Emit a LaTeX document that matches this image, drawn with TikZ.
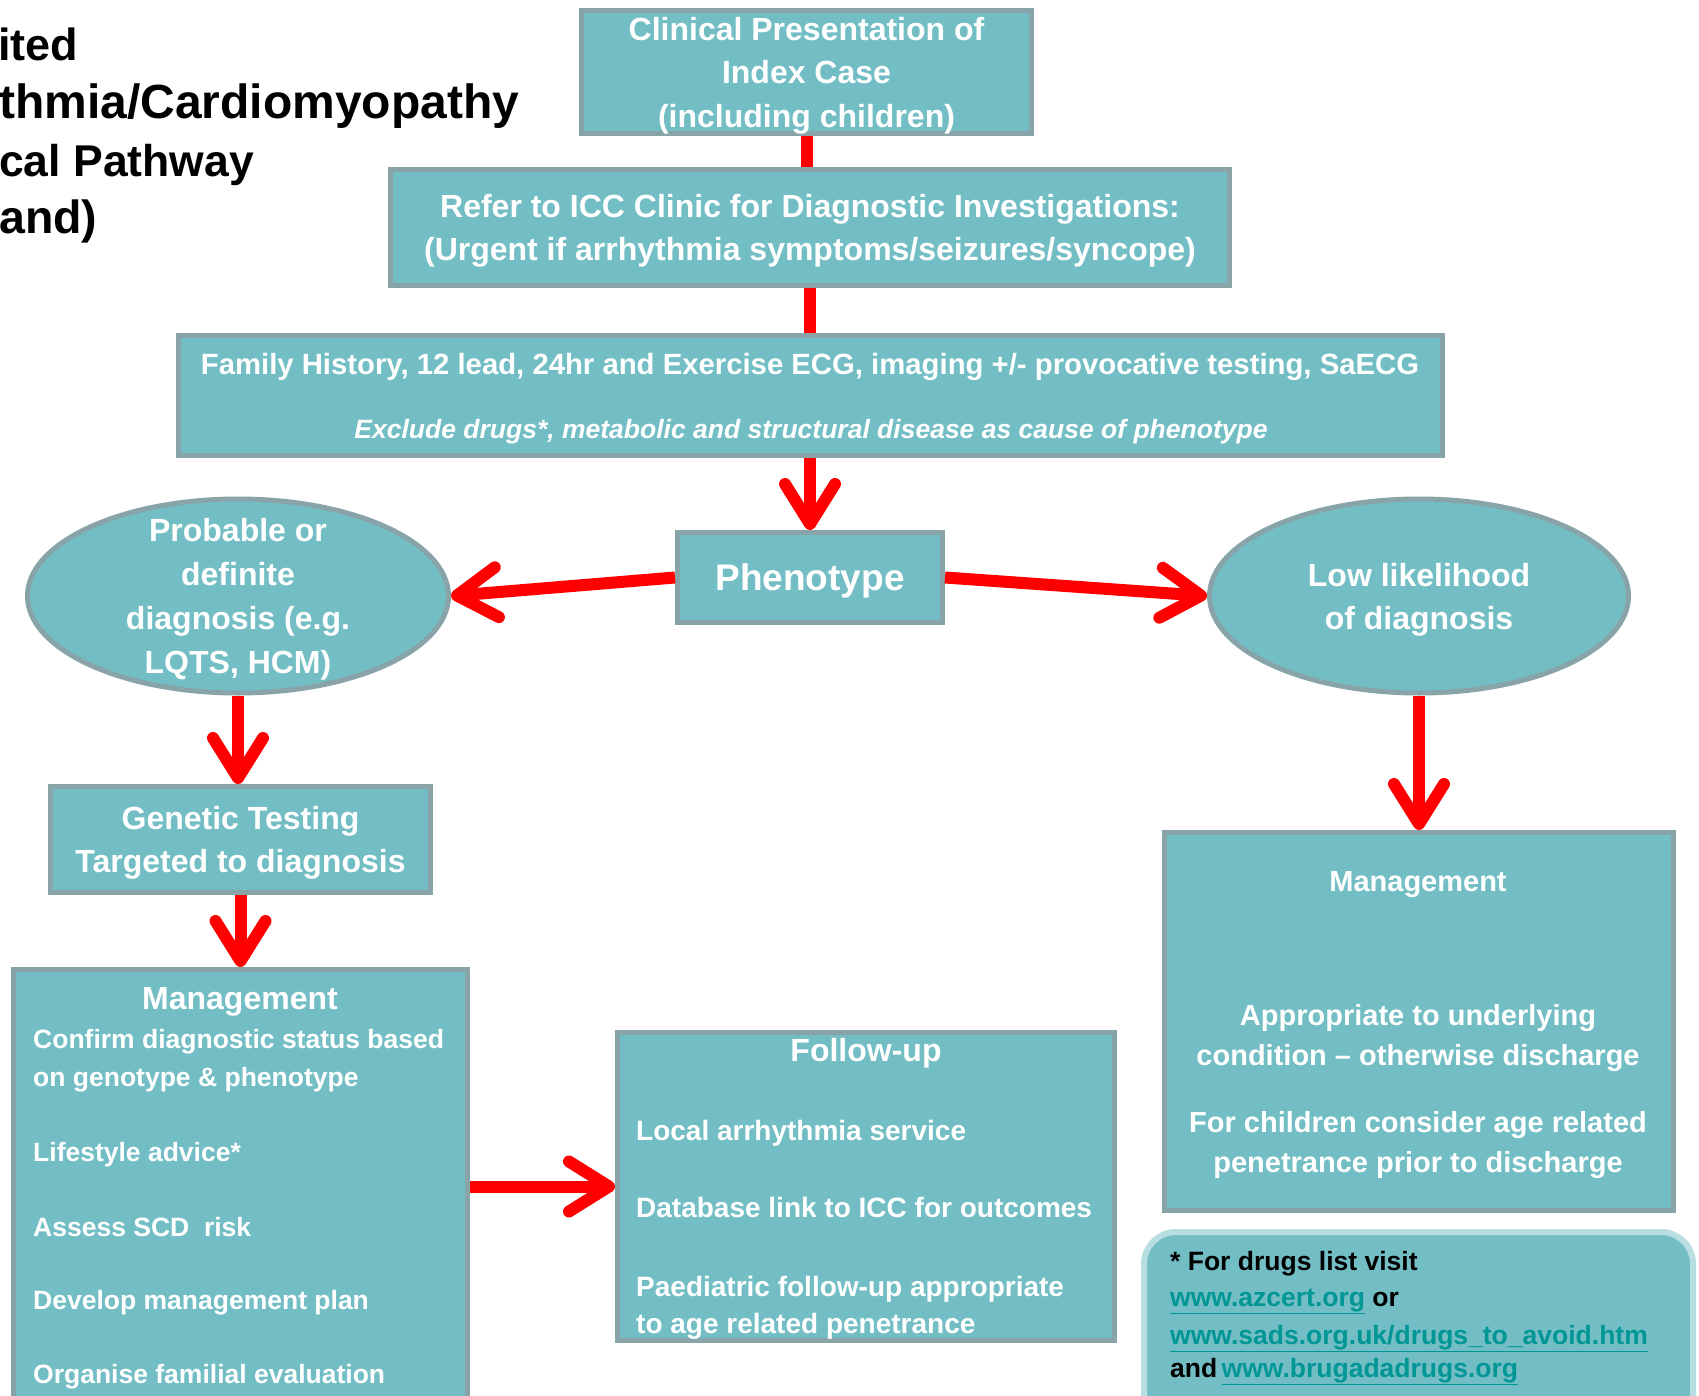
\documentclass[tikz,border=0pt]{standalone}
\usepackage{fontspec}
\setmainfont{Liberation Sans}
\usetikzlibrary{arrows.meta,shapes.geometric}
\definecolor{tl}{RGB}{114,190,196}
\definecolor{bd}{RGB}{137,164,168}
\definecolor{lk}{RGB}{0,150,150}
\definecolor{ring}{RGB}{185,222,226}
\newcommand{\fs}[2]{\fontsize{#1}{#2}\selectfont}
\newcommand{\lnk}[1]{\textcolor{lk}{\underline{#1}}}
\begin{document}
\begin{tikzpicture}[x=1pt,y=-1pt,
  box/.style={draw=bd, fill=tl, line width=5pt, inner sep=0pt, text=white, align=center, text depth=0pt, font=\bfseries\fs{32}{43.5}},
  arr/.style={draw=red, line width=12pt, -{Straight Barb[length=40pt,width=50pt,round]}},
  conn/.style={draw=red, line width=12pt},
  lbl/.style={inner sep=0pt, text=white, font=\bfseries\fs{26.5}{30}},
  ttl/.style={inner sep=0pt, text=black, font=\bfseries\fs{48}{52}, anchor=base west},
  itm/.style={lbl, anchor=base west},
  fnt/.style={inner sep=0pt, text=black, font=\bfseries\fs{26.5}{30}, anchor=base west}]
\useasboundingbox (0,0) rectangle (1699,1396);
\clip (0,0) rectangle (1699,1396);

% title
\node[ttl, font=\bfseries\fs{45}{52}] (t1) at (-2,61) {ited};
\node[ttl] (t2) at (-1,119) {thmia/Cardiomyopathy};
\node[ttl, font=\bfseries\fs{44.5}{52}] (t3) at (-1,177) {cal Pathway};
\node[ttl, font=\bfseries\fs{46.5}{52}] (t4) at (-1,234) {and)};

% boxes
\node[box, minimum width=450pt, minimum height=123pt] (b1) at (806.5,72) {Clinical Presentation of\\Index Case\\(including children)};
\node[box, minimum width=839pt, minimum height=116pt] (b2) at (810,227.5) {Refer to ICC Clinic for Diagnostic Investigations:\\(Urgent if arrhythmia symptoms/seizures/syncope)};
\node[box, minimum width=1264pt, minimum height=120pt] (b3) at (810.5,395.5) {};
\node[lbl, anchor=base, font=\bfseries\fs{29.3}{32}] (b3a) at (810,374) {Family History, 12 lead, 24hr and Exercise ECG, imaging +/- provocative testing, SaECG};
\node[lbl, anchor=base, font=\bfseries\itshape\fs{26.5}{30}] (b3b) at (811,438) {Exclude drugs*, metabolic and structural disease as cause of phenotype};

\node[box, minimum width=265pt, minimum height=90pt, font=\bfseries\fs{37}{40}] (ph) at (810,577.5) {Phenotype};

\node[box, ellipse, minimum width=421pt, minimum height=194pt] (el) at (238,596) {};
\node[lbl, align=center, text depth=0pt, font=\bfseries\fs{32}{44}] (elt) at (el.center) {Probable or\\definite\\diagnosis (e.g.\\LQTS, HCM)};
\node[box, ellipse, minimum width=419pt, minimum height=194pt] (er) at (1419,596) {};
\node[lbl, align=center, text depth=0pt, font=\bfseries\fs{32}{43}] (ert) at (er.center) {Low likelihood\\of diagnosis};

\node[box, minimum width=380pt, minimum height=106pt] (gen) at (240.5,839.5) {Genetic Testing\\Targeted to diagnosis};

% left management
\node[box, minimum width=454pt, minimum height=457pt] (mgl) at (240.5,1198) {};
\node[lbl, anchor=base, font=\bfseries\fs{32}{40}] (mglh) at (240,1009) {Management};
\node[itm] (mgl1) at (33,1048) {Confirm diagnostic status based};
\node[itm] (mgl2) at (33,1086) {on genotype \& phenotype};
\node[itm] (mgl3) at (33,1161) {Lifestyle advice*};
\node[itm] (mgl4) at (33,1236) {Assess SCD\ \ risk};
\node[itm] (mgl5) at (33,1309) {Develop management plan};
\node[itm] (mgl6) at (33,1383) {Organise familial evaluation};

% follow-up
\node[box, minimum width=497pt, minimum height=308pt] (fu) at (866,1186.5) {};
\node[lbl, anchor=base, font=\bfseries\fs{32}{40}] (fuh) at (866,1061) {Follow-up};
\node[itm, font=\bfseries\fs{28}{32}] (fu1) at (636,1140) {Local arrhythmia service};
\node[itm, font=\bfseries\fs{28}{32}] (fu2) at (636,1217) {Database link to ICC for outcomes};
\node[itm, font=\bfseries\fs{28}{32}] (fu3) at (636,1296) {Paediatric follow-up appropriate};
\node[itm, font=\bfseries\fs{28}{32}] (fu4) at (636,1333) {to age related penetrance};

% right management
\node[box, minimum width=509pt, minimum height=378pt] (mgr) at (1419,1021.5) {};
\node[lbl, anchor=base, font=\bfseries\fs{29}{32}] (mgrh) at (1418,891) {Management};
\node[lbl, anchor=base, font=\bfseries\fs{29}{32}] (mgr1) at (1418,1025) {Appropriate to underlying};
\node[lbl, anchor=base, font=\bfseries\fs{29}{32}] (mgr2) at (1418,1065) {condition -- otherwise discharge};
\node[lbl, anchor=base, font=\bfseries\fs{29}{32}] (mgr3) at (1418,1132) {For children consider age related};
\node[lbl, anchor=base, font=\bfseries\fs{29}{32}] (mgr4) at (1418,1172) {penetrance prior to discharge};

% footnote
\node[draw=ring, fill=tl, line width=6pt, rounded corners=32pt, inner sep=0pt, minimum width=549pt, minimum height=208pt] (fn) at (1418.5,1336) {};
\node[fnt] (fn1) at (1170,1270) {* For drugs list visit};
\node[fnt] (fn2) at (1170,1306) {\lnk{www.azcert.org} or};
\node[fnt] (fn3) at (1170,1344) {\lnk{www.sads.org.uk/drugs\_to\_avoid.htm}};
\node[fnt] (fn4) at (1170,1377) {and\hspace{-3pt} \lnk{www.brugadadrugs.org}};

% connectors
\draw[conn] (b1.south) -- (b1.south |- b2.north);
\draw[conn] (b2.south) -- (b2.south |- b3.north);
\draw[arr] (b3.south -| ph.north) -- (ph.north);
\draw[arr] (ph.west) -- (el.east);
\draw[arr] (ph.east) -- (er.west);
\draw[arr] (el.south) -- (el.south |- gen.north);
\draw[arr] (gen.south) -- (gen.south |- mgl.north);
\draw[arr] (er.south) -- (er.south |- mgr.north);
\draw[arr] (fu.west -| mgl.east) -- (fu.west);
\end{tikzpicture}
\end{document}
